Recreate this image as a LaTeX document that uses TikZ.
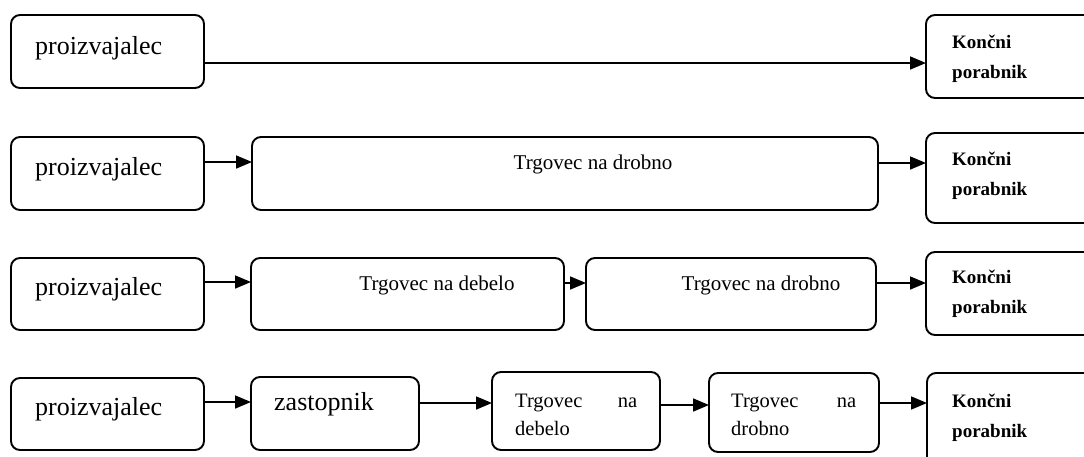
\documentclass[tikz,border=0pt]{standalone}
\usepackage{fontspec}
\setmainfont{Liberation Serif}
\usetikzlibrary{arrows.meta}
\begin{document}
\begin{tikzpicture}[x=1pt,y=-1pt,
  box/.style={draw,line width=1.9pt,rounded corners=9pt,inner sep=0pt,outer sep=0pt,anchor=north west},
  big/.style={inner sep=0pt,anchor=west,font=\fontsize{26}{30}\selectfont},
  mid/.style={inner sep=0pt,font=\fontsize{21}{25}\selectfont},
  two/.style={inner sep=0pt,anchor=west,align=left,font=\fontsize{20.5}{28}\selectfont},
  kp/.style={inner sep=0pt,anchor=west,align=left,font=\fontsize{19}{30}\selectfont\bfseries},
  arr/.style={line width=1.7pt,-{Triangle[length=16pt,width=13pt]}}]
\clip (0,0) rectangle (1084,456);
\fill[white] (0,0) rectangle (1084,456);
% row 1
\node[box,minimum width=193,minimum height=73] (p1) at (11,15) {};
\node[box,minimum width=180,minimum height=83] (k1) at (926,15) {};
\node[big] (tp1) at (35,48) {proizvajalec};
\node[kp] (tk1) at (952,59) {Končni\\porabnik};
\coordinate (a1) at (0,63);
\draw[arr] (p1.east |- a1) -- (k1.west |- a1);
% row 2
\node[box,minimum width=193,minimum height=73] (p2) at (11,137) {};
\node[box,minimum width=626,minimum height=73] (r2) at (252,137) {};
\node[box,minimum width=180,minimum height=90] (k2) at (926,133) {};
\node[big] (tp2) at (35,169) {proizvajalec};
\node[mid] (tr2) at (593,164) {Trgovec na drobno};
\node[kp] (tk2) at (952,176) {Končni\\porabnik};
\coordinate (a2) at (0,162);
\coordinate (b2) at (0,163);
\draw[arr] (p2.east |- a2) -- (r2.west |- a2);
\draw[arr] (r2.east |- b2) -- (k2.west |- b2);
% row 3
\node[box,minimum width=193,minimum height=72] (p3) at (11,258) {};
\node[box,minimum width=313,minimum height=72] (w3) at (251,258) {};
\node[box,minimum width=290,minimum height=72] (r3) at (586,258) {};
\node[box,minimum width=180,minimum height=83] (k3) at (926,252) {};
\node[big] (tp3) at (35,289) {proizvajalec};
\node[mid] (tw3) at (437,285) {Trgovec na debelo};
\node[mid] (tr3) at (761,285) {Trgovec na drobno};
\node[kp] (tk3) at (952,294) {Končni\\porabnik};
\coordinate (a3) at (0,282);
\coordinate (b3) at (0,283);
\draw[arr] (p3.east |- a3) -- (w3.west |- a3);
\draw[arr] (w3.east |- b3) -- (r3.west |- b3);
\draw[arr] (r3.east |- b3) -- (k3.west |- b3);
% row 4
\node[box,minimum width=193,minimum height=72] (p4) at (11,378) {};
\node[box,minimum width=168,minimum height=73] (z4) at (251,377) {};
\node[box,minimum width=168,minimum height=78] (w4) at (492,372) {};
\node[box,minimum width=170,minimum height=79] (r4) at (709,373) {};
\node[box,minimum width=180,minimum height=100] (k4) at (927,373) {};
\node[big] (tp4) at (35,409) {proizvajalec};
\node[big] (tz4) at (274,404) {zastopnik};
\node[two,text width=122pt] (tw4) at (515,415) {Trgovec\hfill na\\debelo};
\node[two,text width=125pt] (tr4) at (731,415) {Trgovec\hfill na\\drobno};
\node[kp] (tk4) at (952,418) {Končni\\porabnik};
\coordinate (a4) at (0,402);
\coordinate (b4) at (0,403);
\coordinate (c4) at (0,405);
\draw[arr] (p4.east |- a4) -- (z4.west |- a4);
\draw[arr] (z4.east |- b4) -- (w4.west |- b4);
\draw[arr] (w4.east |- c4) -- (r4.west |- c4);
\draw[arr] (r4.east |- b4) -- (k4.west |- b4);
\end{tikzpicture}
\end{document}
